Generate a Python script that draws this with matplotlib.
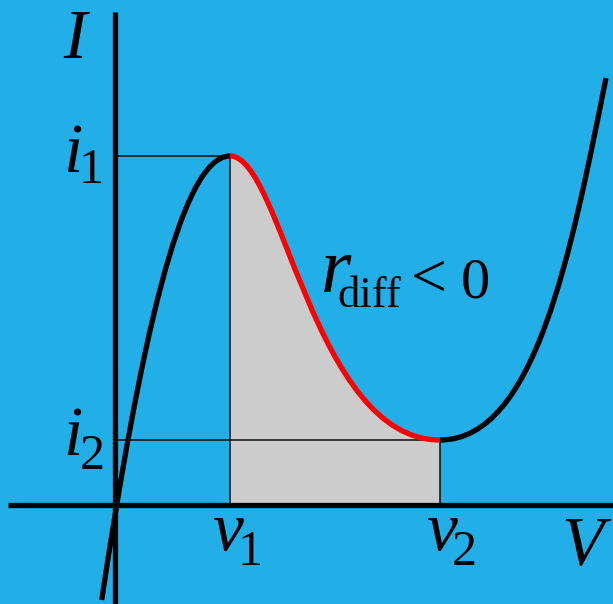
import matplotlib
matplotlib.use("Agg")
import matplotlib.pyplot as plt
from matplotlib.path import Path
from matplotlib.patches import PathPatch

plt.rcParams["font.family"] = ["Liberation Serif", "DejaVu Serif"]

# characteristic points of the tunnel diode curve
v1, i1 = 1.15, 3.49   # peak
v2, i2 = 3.25, 0.65   # valley

# cubic Bezier control points (V, I) for the three branches
rise_v = [-0.133, 0.24, 0.65, v1]
rise_i = [-0.95, 1.52, i1, i1]
neg_v = [v1, 1.67, 1.98, v2]
neg_i = [i1, i1, i2, i2]
tail_v = [v2, 4.20, 4.557, 4.91]
tail_i = [i2, i2, 2.506, 4.27]

bg = "#22AEE6"
curve_w = 3.8

fig = plt.figure(figsize=(6.13, 6.04), dpi=100, facecolor=bg)
ax = fig.add_axes([0, 0, 1, 1])
ax.set_facecolor(bg)
ax.set_xlim(-1.15, 4.98)
ax.set_ylim(-0.99, 5.05)
ax.axis("off")

codes = [Path.MOVETO, Path.CURVE4, Path.CURVE4, Path.CURVE4]

# grey area under the negative-resistance branch
shade = Path(list(zip(neg_v, neg_i)) + [(v2, 0), (v1, 0), (v1, i1)],
             codes + [Path.LINETO, Path.LINETO, Path.CLOSEPOLY])
ax.add_patch(PathPatch(shade, facecolor="#CCCCCC", edgecolor="none", zorder=1))

# guide lines
ax.plot([0, v1], [i1, i1], color="#1a1a1a", lw=1.2, zorder=2)
ax.plot([0, v2], [i2, i2], color="#1a1a1a", lw=1.2, zorder=2)
ax.plot([v1, v1], [0, i1], color="#1a1a1a", lw=1.2, zorder=2)
ax.plot([v2, v2], [0, i2], color="#1a1a1a", lw=1.2, zorder=2)

# axes
ax.plot([-1.07, 4.98], [0, 0], color="black", lw=3.8, solid_capstyle="butt", zorder=3)
ax.plot([0, 0], [-0.99, 4.93], color="black", lw=3.8, solid_capstyle="butt", zorder=3)

for vs, cs, col in [(rise_v, rise_i, "black"), (neg_v, neg_i, "red"),
                    (tail_v, tail_i, "black")]:
    p = Path(list(zip(vs, cs)), codes)
    ax.add_patch(PathPatch(p, facecolor="none", edgecolor=col, lw=curve_w,
                           capstyle="butt", zorder=4))


def label(x, y, main, sub=None, dx=0.0, dy=0.0, size=50, sub_size=36):
    ax.text(x, y, main, fontsize=size, style="italic", ha="left", va="baseline")
    if sub:
        ax.text(x + dx, y - dy, sub, fontsize=sub_size, ha="left", va="baseline")


label(-0.52, 4.47, "I")
label(4.46, -0.60, "V")
label(-0.52, i1 - 0.16, "i", "1", dx=0.16, dy=0.11)
label(-0.52, i2 - 0.15, "i", "2", dx=0.17, dy=0.14)
label(v1 - 0.18, -0.45, "v", "1", dx=0.26, dy=0.15)
label(v2 - 0.14, -0.45, "v", "2", dx=0.26, dy=0.15)
label(2.06, 2.13, "r", "diff", dx=0.16, dy=0.15, size=56, sub_size=32)
ax.text(2.96, 2.08, "<", fontsize=46, ha="left", va="baseline")
ax.text(3.46, 2.07, "0", fontsize=42, ha="left", va="baseline")

fig.savefig("out.png", dpi=100, facecolor=bg)
